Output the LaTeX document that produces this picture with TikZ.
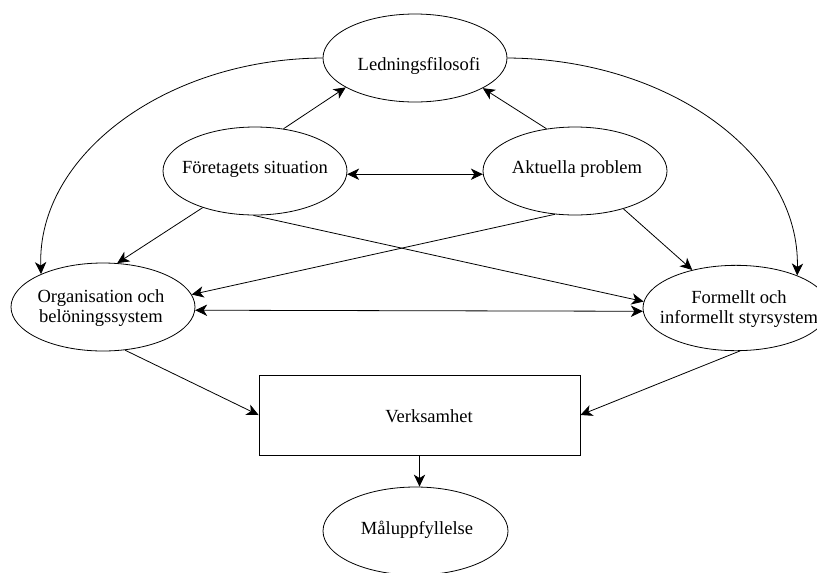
\documentclass[tikz,border=0pt]{standalone}
\usepackage{fontspec}
\setmainfont{Liberation Serif}
\usetikzlibrary{shapes.geometric,arrows.meta}
\begin{document}
\begin{tikzpicture}[x=0.75pt,y=-0.75pt,
  ell/.style={draw,ellipse,line width=0.6pt,minimum width=138pt,minimum height=66pt,inner sep=0pt},
  lbl/.style={font=\fontsize{13.9}{15}\selectfont,align=center,inner sep=0pt},
  box/.style={draw,rectangle,line width=0.6pt,minimum width=240.75pt,minimum height=60pt,inner sep=0pt},
  tip/.tip={Stealth[length=9pt,width=8.5pt,inset=2.6pt]},
  conn/.style={line width=0.6pt,-tip},
  conntwo/.style={line width=0.6pt,tip-tip}]
\useasboundingbox (0,0) rectangle (817,572);
\clip (0,0) rectangle (817,572);
\node[ell] (lf) at (415,58) {};
\node[ell] (fs) at (255,171) {};
\node[ell] (ap) at (575,171) {};
\node[ell] (org) at (103,307) {};
\node[ell,minimum width=139.5pt,minimum height=64pt] (ff) at (736,308) {};
\node[box] (verk) at (419.5,415) {};
\node[ell,minimum width=138.75pt] (mal) at (415.5,531) {};
\node[lbl,anchor=base] (tlf) at (419,70) {Ledningsfilosofi};
\node[lbl,anchor=base] (tfs) at (255,173) {Företagets situation};
\node[lbl,anchor=base] (tap) at (577,173) {Aktuella problem};
\node[lbl] (torg) at (101,308.5) {Organisation och\\belöningssystem};
\node[lbl] (tff) at (739,309.5) {Formellt och\\informellt styrsystem};
\node[lbl,anchor=base] (tverk) at (429,422) {Verksamhet};
\node[lbl,anchor=base] (tmal) at (417,534) {Måluppfyllelse};
\draw[conn] (fs.56) -- (lf.203);
\draw[conn] (ap.124) -- (lf.336);
\draw[conntwo] (fs.-2.5) -- (ap.182.5);
\draw[conn] (lf.west) .. controls (166,59) and (37,155) .. (org.152);
\draw[conn] (lf.east) .. controls (669,59) and (800,155) .. (ff.28);
\draw[conn] (fs.215) -- (org.72);
\draw[conn] (fs.268) -- (ff.176);
\draw[conn] (ap.245) -- (org.8.5);
\draw[conntwo] (org.-2.5) -- (ff.182);
\draw[conn] (ap.322) -- (ff.139);
\draw[conn] (org.297) -- (verk.west);
\draw[conn] (ff.275) -- (verk.east);
\draw[conn] (verk.south) -- (verk.south |- mal.north);
\end{tikzpicture}
\end{document}
